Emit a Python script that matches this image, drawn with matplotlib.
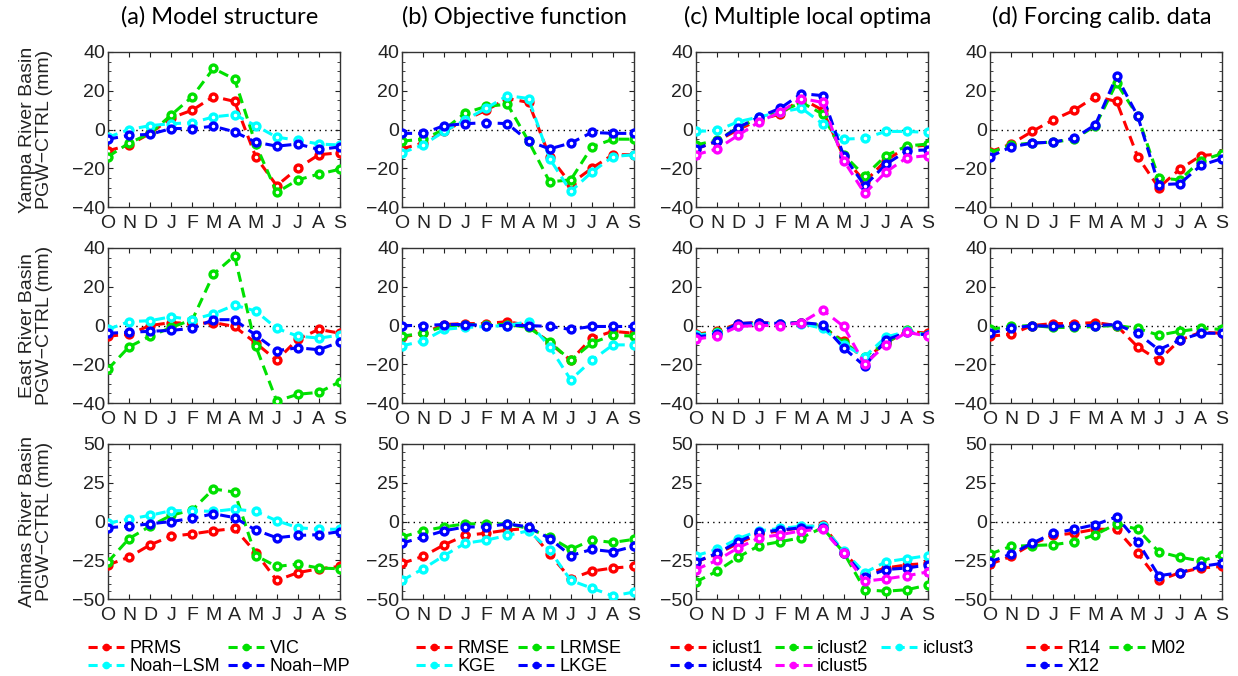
import matplotlib
matplotlib.use("Agg")
import matplotlib.pyplot as plt
from matplotlib.lines import Line2D
from matplotlib.ticker import MultipleLocator

plt.rcParams['font.family'] = ['Liberation Sans', 'DejaVu Sans']
plt.rcParams['axes.unicode_minus'] = True

months = ['O', 'N', 'D', 'J', 'F', 'M', 'A', 'M', 'J', 'J', 'A', 'S']
x = list(range(1, 13))

basins = ['Yampa River Basin', 'East River Basin', 'Animas River Basin']
col_titles = ['(a) Model structure', '(b) Objective function',
              '(c) Multiple local optima', '(d) Forcing calib. data']

# ---- (a) model structure ----
a_labels = ['PRMS', 'VIC', 'Noah\u2212LSM', 'Noah\u2212MP']
a_yampa = [
    [-11, -8, -2, 6, 10, 17, 14.5, -14, -29, -20, -13, -12],
    [-14, -7, -2, 7.5, 17, 31.5, 26, -7.5, -32.5, -26, -23, -20.5],
    [-4, 0, 2, 3, 3.5, 6.5, 7.7, 2, -4, -5.5, -7.5, -8],
    [-5, -3, -2.5, 0.5, 0.5, 1.7, -1.2, -6.5, -8.6, -7.5, -10.3, -9],
]
a_east = [
    [-5.5, -4.5, 0, 1.5, 1, 1.5, -0.5, -9, -18, -7, -2, -4],
    [-22.5, -11, -5.5, -1, 3, 26.5, 36, -10.5, -39, -35.5, -34.5, -29],
    [-2, 2, 2.5, 4.5, 3, 6, 10.5, 7.5, -1.5, -5.5, -6.5, -5],
    [-4, -3.5, -3, -2.5, -1.5, 3, 3, -5, -13, -11.5, -12.5, -8.5],
]
a_animas = [
    [-28, -23, -15, -9.5, -8, -6, -4.5, -20, -38, -33, -30.5, -29],
    [-26, -11, -3, 4, 7.5, 21, 19, -22, -29, -27.5, -30, -30.5],
    [-1, 1.5, 4, 7, 7, 6.5, 8, 6.5, 0.5, -4, -5, -5],
    [-4, -3, -1.5, 0, 2, 5, 2.5, -5.5, -10.5, -9, -8.5, -6.5],
]

# ---- (b) objective function ----
b_labels = ['RMSE', 'LRMSE', 'KGE', 'LKGE']
b_yampa = [
    [-10, -7, -1, 5, 10, 16, 14, -14, -28, -20, -13, -13],
    [-6, -5, 0, 8.5, 12, 13, -6, -27, -26, -9, -5, -5],
    [-12, -8, -1, 5, 11, 17.5, 16, -15, -32, -22, -14, -13],
    [-2, -2, 2, 3, 3.5, 3, -6, -10, -7, -1.5, -2, -2],
]
b_east = [
    [-6, -4, 0.5, 1, 1, 2, 0, -9, -18, -6.5, -3, -4],
    [-5.5, -4, -0.5, 0.5, 0.5, 0.5, -1, -8.5, -18, -9, -5, -5.5],
    [-10.5, -8, -2, -1, -0.5, 0, 2, -11, -28, -18, -10, -10],
    [0, 0, 0.5, 0.5, 0, 0, 0, -0.5, -2, -0.5, -0.5, -0.5],
]
b_animas = [
    [-27, -22.5, -15, -9, -7.5, -5.5, -4.5, -21, -37, -32, -30, -29],
    [-10, -6, -3.5, -1.5, -1.5, -1.5, -4.5, -10, -18, -12, -13.5, -11.5],
    [-38, -30.5, -22, -14, -12, -9, -6, -18.5, -38, -43, -48, -45.5],
    [-14, -10, -6, -3.5, -3.5, -1.5, -3.5, -11, -22, -18, -19.5, -16],
]

# ---- (c) multiple local optima ----
c_labels = ['iclust1', 'iclust2', 'iclust3', 'iclust4', 'iclust5']
c_yampa = [
    [-10, -6, 0, 5, 8, 16, 10, -14, -27, -16, -9, -8],
    [-8, -5.5, 1, 6, 9, 14, 8, -13, -24, -13.5, -8.5, -7.5],
    [-1, -0.5, 4, 6.5, 9, 11, 3, -5, -4.5, -1, -1, -1.5],
    [-10, -6, 1, 6.5, 11, 18.5, 17.5, -13.5, -29, -18, -11, -10.5],
    [-13, -10, -3, 4, 9, 16, 14, -16, -33, -22, -14.5, -13.5],
]
c_east = [
    [-4.5, -3, 1, 1.5, 1, 1.5, -1, -8, -17.5, -9, -3, -4],
    [-5, -3.5, 0.5, 1, 1, 1.5, 0, -9, -16, -9, -2.5, -5],
    [-5, -4, 0, 1, 1, 1, -1.5, -10, -16, -6, -3, -5],
    [-6, -4.5, 1, 1.5, 1, 1.5, 0.5, -11.5, -21, -7.5, -3.5, -5],
    [-7, -5.5, -0.5, 0, 0, 1.5, 8, -0.5, -20, -10, -3.5, -5.5],
]
c_animas = [
    [-26, -21, -14, -8, -6, -4, -2, -20, -34, -30, -28, -27],
    [-39, -32, -23, -15.5, -13, -10.5, -4, -20, -44, -45, -44, -41],
    [-22, -18, -11, -6, -4.5, -3, -3, -19, -33, -26, -24, -22],
    [-26, -20.5, -13, -7, -5.5, -4, -4.5, -20, -36, -31, -30, -28],
    [-31, -25, -17, -10.5, -8.5, -6, -5, -20.5, -38.5, -37, -35, -32.5],
]

# ---- (d) forcing calibration data ----
d_labels = ['R14', 'M02', 'X12']
d_yampa = [
    [-11.5, -7.5, -1, 5, 10, 17, 14.5, -14, -30, -20.5, -13.5, -12.5],
    [-12, -8, -7, -6.5, -5, 2, 24, 7, -25, -26, -16, -12.5],
    [-14, -9, -7, -6.5, -4.5, 2.5, 27.5, 7, -28.5, -28, -18.5, -15],
]
d_east = [
    [-5.5, -4.5, 0, 1, 1, 1.5, 0, -11, -18, -7.5, -3.5, -4],
    [-2, -0.5, 0, -1, -1, -0.5, 0, -1.5, -5, -3, -1.5, -2],
    [-4, -1.5, 0, -0.5, 0, 0, 0.5, -4, -12.5, -7.5, -4, -4],
]
d_animas = [
    [-27.5, -22.5, -14.5, -9, -7.5, -5, -5, -20.5, -38, -33, -30, -29],
    [-21, -16, -15.5, -15, -13, -8.5, -1.5, -5, -19.5, -23, -25.5, -21.5],
    [-26, -21, -14, -7.5, -5, -2, 3, -13, -35, -33, -29, -27],
]

colors4 = ['#ff0000', '#00e000', '#00ffff', '#0000ff']
colors5 = ['#ff0000', '#00e000', '#00ffff', '#0000ff', '#ff00ff']
colors3 = ['#ff0000', '#00e000', '#0000ff']

columns = [
    (a_labels, [a_yampa, a_east, a_animas], colors4),
    (b_labels, [b_yampa, b_east, b_animas], colors4),
    (c_labels, [c_yampa, c_east, c_animas], colors5),
    (d_labels, [d_yampa, d_east, d_animas], colors3),
]

W, H = 1238, 676
fig = plt.figure(figsize=(W / 100, H / 100), dpi=100)

col_left = [108, 402, 696, 990]
row_top = [52, 248, 444]
ax_w, ax_h = 232, 155
dash = (3.3, 2.0)


def px_rect(left, top, w, h):
    return [left / W, (H - top - h) / H, w / W, h / H]


for ci, (labels, rows, cols) in enumerate(columns):
    for ri, series in enumerate(rows):
        ax = fig.add_axes(px_rect(col_left[ci], row_top[ri], ax_w, ax_h))
        lim = 50 if ri == 2 else 40
        step = 25 if ri == 2 else 20
        ax.axhline(0, color='k', lw=1.0, ls=(0, (1, 3)), zorder=1)
        for k, yv in enumerate(series):
            ax.plot(x, yv, color=cols[k], lw=2.2, ls=(0, dash),
                    marker='o', ms=5.0, mew=2.4, mfc='white',
                    mec=cols[k], zorder=3 + k)
        ax.set_xlim(1, 12)
        ax.set_ylim(-lim, lim)
        ax.set_xticks(x)
        ax.set_xticklabels(months)
        ax.set_yticks(range(-lim, lim + 1, step))
        ax.yaxis.set_minor_locator(MultipleLocator(5))
        ax.tick_params(axis='both', which='both', direction='in',
                       top=True, right=True, labelsize=14,
                       colors='#222222')
        ax.tick_params(axis='both', which='major', length=3.5, width=0.8)
        ax.tick_params(axis='y', which='minor', length=2, width=0.6)
        ax.tick_params(axis='x', pad=5.5)
        ax.tick_params(axis='y', pad=2)
        for sp in ax.spines.values():
            sp.set_color('#333333')
            sp.set_linewidth(1.0)
        if ci == 0:
            ax.set_ylabel(basins[ri] + '\nPGW\u2212CTRL (mm)', fontsize=14,
                          color='#222222', labelpad=14, linespacing=1.0)
        if ri == 0:
            fig.text((col_left[ci] + ax_w / 2 - 4) / W, 1 - 17 / H,
                     col_titles[ci], ha='center', va='center',
                     fontsize=17, family=['Lato', 'DejaVu Sans'])

    # legend beneath each column
    handles = [Line2D([], [], color=c, lw=2.2, ls=(0, (3.0, 1.6)), marker='o',
                      ms=4.5, mfc=c, mec=c) for c in cols]
    if len(labels) == 4:
        order = [0, 2, 1, 3]
        ncol = 2
        colsp = 0.45
    elif len(labels) == 5:
        order = [0, 3, 1, 4, 2]
        ncol = 3
        colsp = 0.7
    else:
        order = [0, 2, 1]
        ncol = 2
        colsp = 0.45
    leg_left = [88, 416, 670, 1026][ci]
    fig.legend([handles[i] for i in order], [labels[i] for i in order],
               loc='upper left', bbox_to_anchor=(leg_left / W, 1 - 640 / H),
               ncol=ncol, frameon=False, fontsize=13, handlelength=2.0,
               handletextpad=0.3, columnspacing=colsp, labelspacing=0.08,
               borderpad=0, borderaxespad=0, numpoints=1)

fig.savefig('out.png', dpi=100)
